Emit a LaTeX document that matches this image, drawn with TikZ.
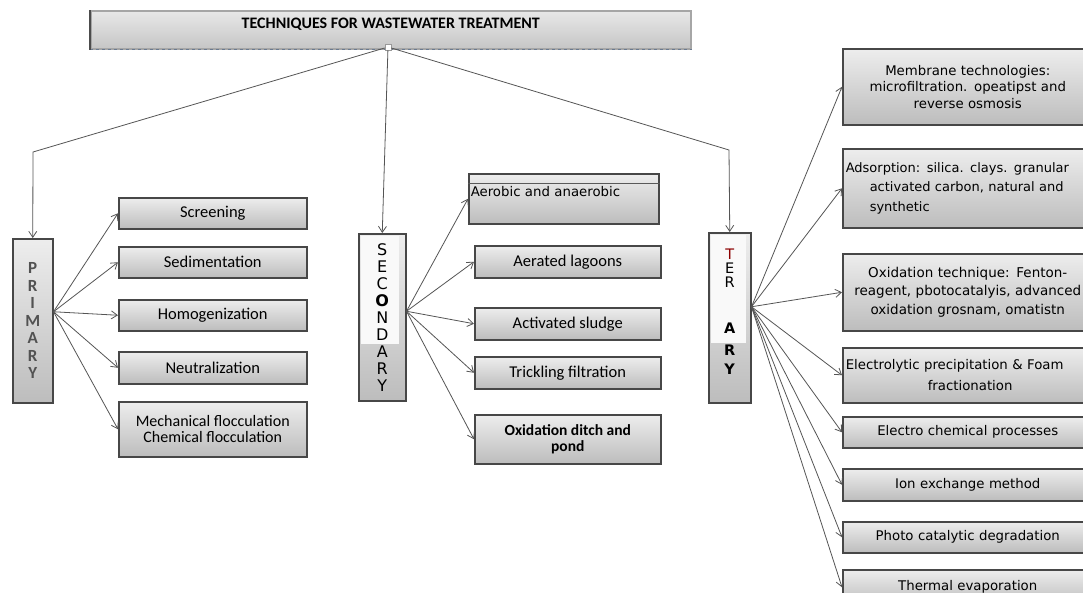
\documentclass[tikz,border=0pt]{standalone}
\usepackage{fontspec}
\setmainfont{Carlito}
\newfontfamily\dv{DejaVu Sans}
\usetikzlibrary{arrows.meta,calc}
\definecolor{ln}{HTML}{555555}
\definecolor{dashc}{HTML}{6A7A90}
\begin{document}
\begin{tikzpicture}[x=1pt,y=-1pt,
  box/.style={draw=black!72, line width=1.5pt, top color=gray!14, middle color=gray!20, bottom color=gray!52, inner sep=2pt, anchor=north west},
  conn/.style={draw=ln, line width=0.8pt, -{Straight Barb[length=6pt,width=8pt]}},
  pbox/.style={box, minimum width=188, font=\fontsize{16.5}{16.5}\selectfont},
  sbox/.style={box, minimum width=186, font=\fontsize{16.5}{16.5}\selectfont},
  tbox/.style={box, minimum width=250, text width=244, align=center, font=\dv\fontsize{13.3}{17}\selectfont},
  vbox/.style={box, align=center},
  whitetop/.style={path picture={\fill[gray!5] ($(path picture bounding box.north west)+(2pt,-2pt)$) rectangle ($(path picture bounding box.north east)+(#1,-110pt)$);}},
]
\clip (0,0) rectangle (1083,592);
\fill[white] (0,0) rectangle (1083,592);

% title
\node[box, draw=gray!70, minimum width=600, minimum height=38, text height=16pt, text depth=18pt,
  top color=gray!18, middle color=gray!18, bottom color=gray!45,
  font=\bfseries\fontsize{16}{16}\selectfont] (title) at (90,10) {TECHNIQUES FOR WASTEWATER TREATMENT};
\draw[dashc, dashed, line width=0.8pt] (title.south west) -- (title.south east);
\draw[black!70, line width=1.4pt] (title.north west) -- (title.south west);
\node[draw=gray!80, fill=white, minimum size=6pt, inner sep=0pt, line width=0.6pt] (hub) at (388,47) {};

% category boxes
\node[vbox, minimum width=40, minimum height=164, text=black!68,
  font=\bfseries\fontsize{17}{17.5}\selectfont] (prim) at (12,238) {P\\R\\I\\M\\A\\R\\Y};
\node[vbox, minimum width=47, minimum height=167, whitetop=-7pt,
  font=\dv\fontsize{16}{17}\selectfont] (sec) at (358,233) {S\\E\\C\\\textbf{O}\\N\\D\\A\\R\\Y};
\node[vbox, minimum width=42, minimum height=170, whitetop=-5pt,
  font=\dv\fontsize{14.5}{14}\selectfont] (ter) at (708,232) {\textcolor{red!55!black}{T}\\E\\R\\[32pt]\textbf{A}\\[8pt]\textbf{R}\\[5pt]\textbf{Y}\\[-6pt]\strut};

% top connectors
\coordinate (bp1) at (33,152);
\coordinate (bp3) at (729,150);
\draw[conn] (hub) -- (bp1) -- (prim.north);
\draw[conn] (hub) -- (sec.north);
\draw[conn] (hub) -- (bp3) -- (ter.north);

% primary children
\node[pbox, minimum height=31] (p1) at (118,197) {Screening};
\node[pbox, minimum height=31] (p2) at (118,246) {Sedimentation};
\node[pbox, minimum height=31] (p3) at (118,299) {Homogenization};
\node[pbox, minimum height=32] (p4) at (118,351) {Neutralization};
\node[pbox, minimum height=55, align=center, font=\fontsize{16}{16}\selectfont] (p5) at (118,401) {Mechanical flocculation\\Chemical flocculation};

% secondary children
\node[box, minimum width=190, minimum height=50, text width=186, align=left, inner sep=1pt,
  text height=22pt, text depth=26pt, font=\dv\fontsize{13.3}{14}\selectfont] (s1) at (468,173) {Aerobic and anaerobic};
\draw[black!65, line width=0.8pt] ([yshift=-10pt]s1.north west) -- ([yshift=-10pt]s1.north east);
\node[sbox, minimum height=32] (s2) at (474,245) {Aerated lagoons};
\node[sbox, minimum height=32] (s3) at (474,307) {Activated sludge};
\node[sbox, minimum height=32] (s4) at (474,356) {Trickling filtration};
\node[sbox, minimum height=49, align=center, font=\bfseries\fontsize{15.5}{16.5}\selectfont] (s5) at (474,414) {Oxidation ditch and\\pond};

% tertiary children
\node[tbox, minimum height=76, font=\dv\fontsize{13.3}{16.5}\selectfont] (t1) at (842,48) {Membrane technologies:\\microfiltration. opeatipst and\\reverse osmosis};
\node[tbox, minimum height=79, align=left, font=\dv\fontsize{13}{19.5}\selectfont] (t2) at (842,148) {Adsorption: silica. clays. granular\\\hspace*{24pt}activated carbon, natural and\\\hspace*{24pt}synthetic};
\node[tbox, minimum height=77, font=\dv\fontsize{13.5}{18.5}\selectfont] (t3) at (842,253) {Oxidation technique: Fenton-\\reagent, pbotocatalyis, advanced\\oxidation grosnam, omatistn};
\node[tbox, minimum height=55, align=left, inner sep=0pt, font=\dv\fontsize{13.3}{21}\selectfont] (t4) at (842,347) {Electrolytic precipitation \& Foam\\\hspace*{82pt}fractionation};
\node[tbox, minimum height=31] (t5) at (842,416) {Electro chemical processes};
\node[tbox, minimum height=32] (t6) at (842,468) {Ion exchange method};
\node[tbox, minimum height=31] (t7) at (842,521) {Photo catalytic degradation};
\node[tbox, minimum height=35] (t8) at (842,569) {Thermal evaporation};

% branch connectors
\foreach \n in {p1,p2,p3,p4,p5} \draw[conn] ([yshift=9pt]prim.east) -- (\n.west);
\foreach \n in {s1,s2,s3,s4,s5} \draw[conn] ([yshift=6pt]sec.east) -- (\n.west);
\foreach \n in {t1,t2,t3,t4,t5,t6,t7,t8} \draw[conn] ([yshift=11pt]ter.east) -- (\n.west);
\end{tikzpicture}
\end{document}
